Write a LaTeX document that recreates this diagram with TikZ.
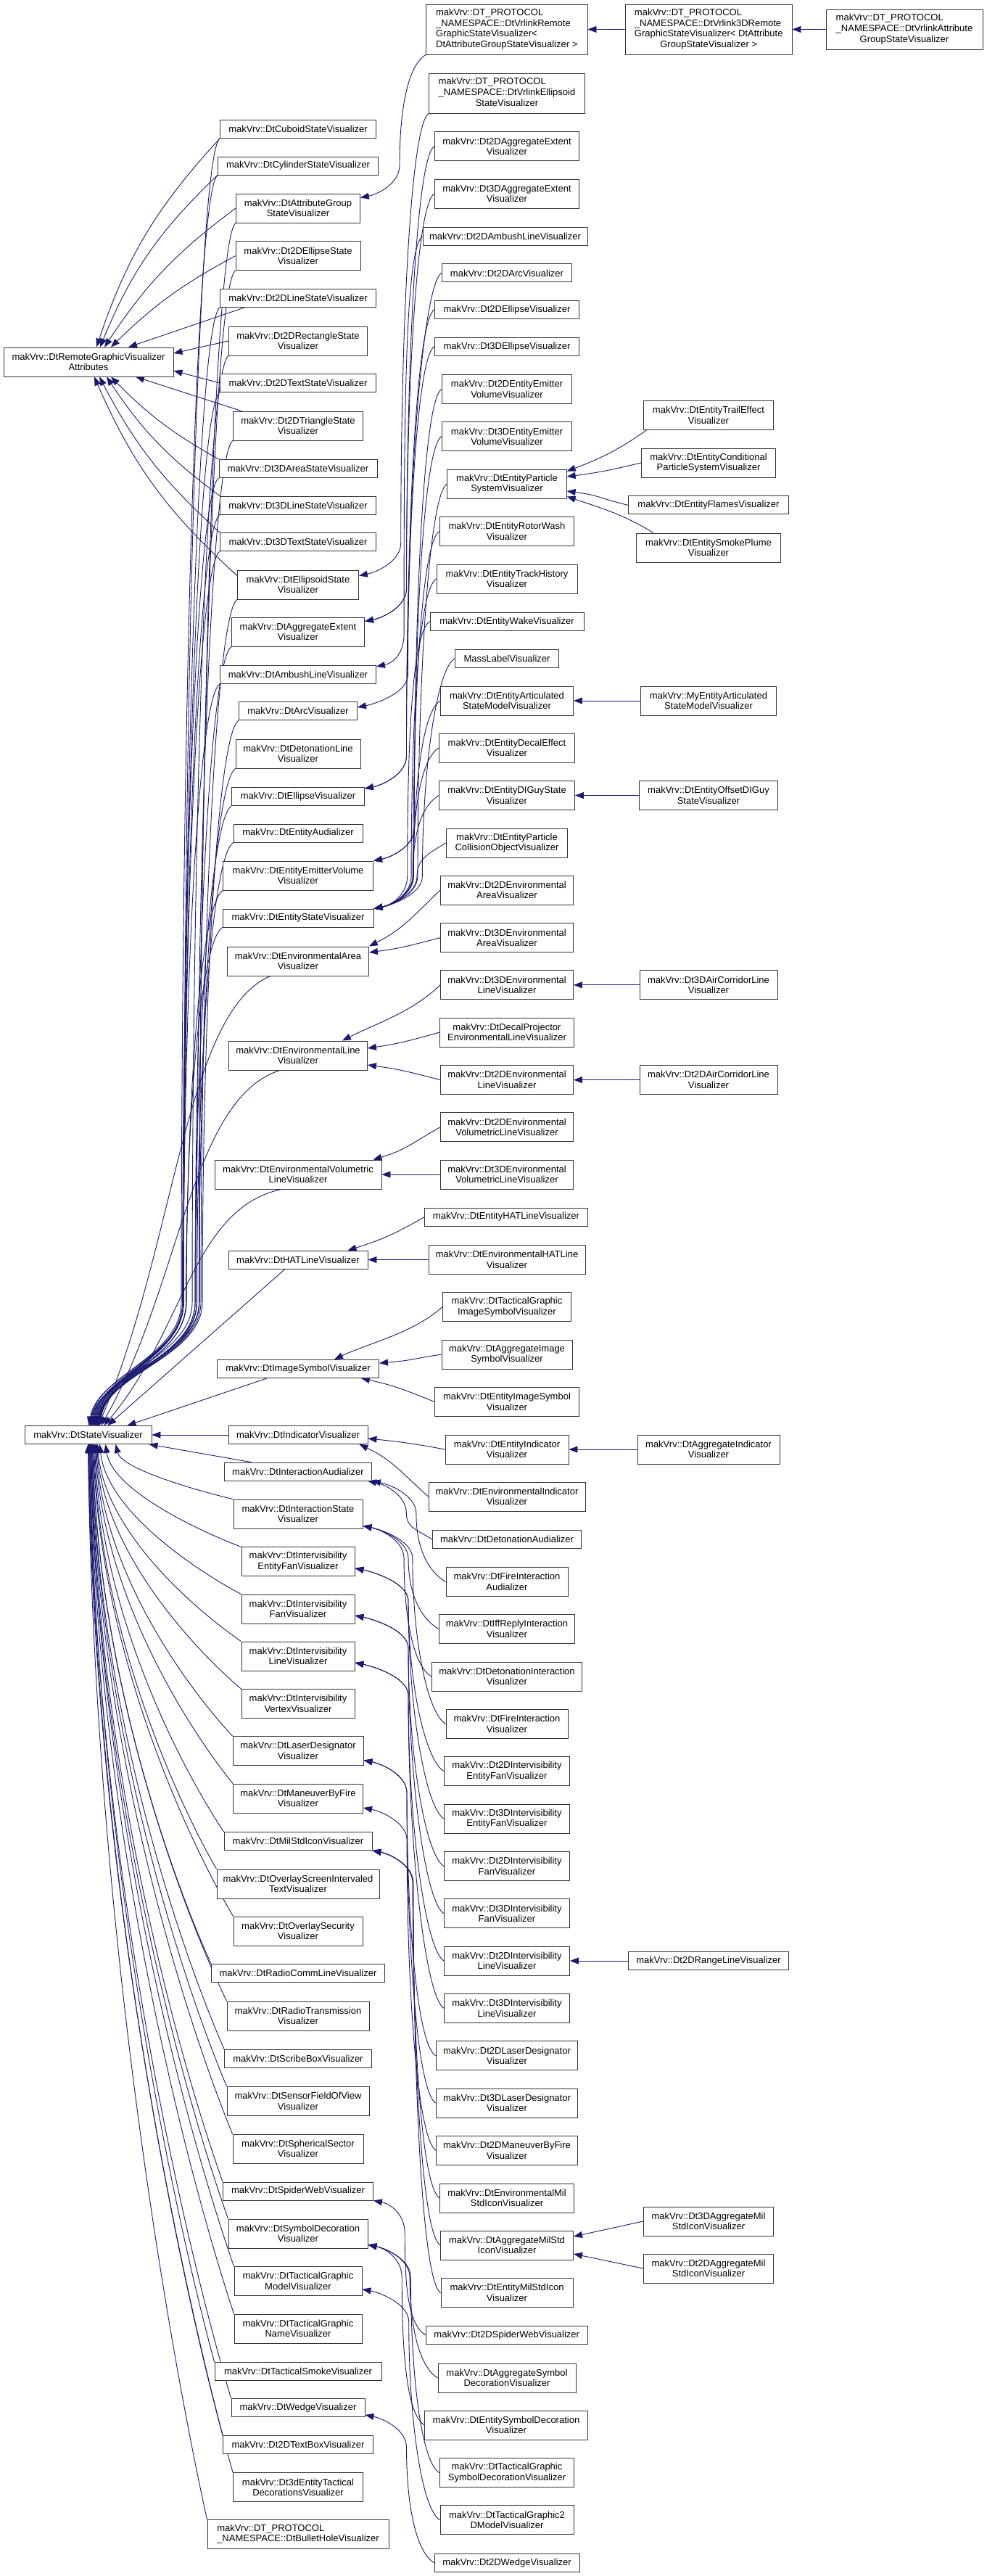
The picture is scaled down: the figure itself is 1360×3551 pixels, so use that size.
\documentclass[tikz,border=0pt]{standalone}
\usepackage{fontspec}
\setmainfont{Liberation Sans}
\usetikzlibrary{arrows.meta,calc}
\definecolor{mblue}{HTML}{191970}
\pgfdeclarelayer{bg}
\pgfsetlayers{bg,main}
\tikzset{
 box/.style={draw=black!80, line width=0.9pt, fill=white, inner sep=0pt, align=center, font=\fontsize{13}{14.6}\selectfont},
 b/.style 2 args={box, minimum width=#1pt, minimum height=#2pt},
 e/.style={draw=mblue, line width=0.9pt, -{Triangle[length=12pt,width=9pt]}},
 svfar/.style={to path={let \p1=(\tikztostart), \p2=(\tikztotarget) in
   .. controls ({(\x1)-30pt},{(\y1)-20pt}) and ({(\x1)-50pt},{0.5*(\y1)+0.5*(\y2)+85pt})
   .. ({(\x1)-50pt},{(\y2)+170pt})
   .. controls ({(\x1)-50pt},{(\y2)+95pt}) and ({(\x2)+12pt},{(\y2)+70pt})
   .. (\tikztotarget)}},
 svmid/.style={to path={let \p1=(\tikztostart), \p2=(\tikztotarget) in
   .. controls ({(\x1)-0.5*((\x1)-(\x2))},{(\y1)-0.08*((\y1)-(\y2))}) and ({(\x2)+0.45*((\x1)-(\x2))},{(\y2)+0.4*((\y1)-(\y2))}) .. (\tikztotarget)}},
 svlow/.style={to path={let \p1=(\tikztostart), \p2=(\tikztotarget) in
   .. controls ({(\x1)-0.3*((\x1)-(\x2))},{(\y1)+0.15*((\y2)-(\y1))}) and ({(\x2)+0.05*((\x1)-(\x2))},{(\y2)-0.45*((\y2)-(\y1))}) .. (\tikztotarget)}},
 ch/.style={to path={let \p1=(\tikztostart), \p2=(\tikztotarget) in
   .. controls ({(\x1)-40pt},{0.5*(\y1)+0.5*(\y2)}) and ({(\x2)+45pt},{0.7*(\y2)+0.3*(\y1)}) .. (\tikztotarget)}},
 chd/.style={to path={let \p1=(\tikztostart), \p2=(\tikztotarget) in
   .. controls ({(\x1)-25pt},{(\y1)-15pt}) and ({(\x2)+0.6*((\x1)-(\x2))},{0.5*(\y1)+0.5*(\y2)+22.5pt})
   .. ({(\x2)+0.6*((\x1)-(\x2))},{(\y2)+45pt})
   .. controls ({(\x2)+0.6*((\x1)-(\x2))},{(\y2)+20pt}) and ({(\x2)+25pt},{(\y2)+5pt})
   .. (\tikztotarget)}},
 chu/.style={to path={let \p1=(\tikztostart), \p2=(\tikztotarget) in
   .. controls ({(\x1)-25pt},{(\y1)+15pt}) and ({(\x2)+0.6*((\x1)-(\x2))},{0.5*(\y1)+0.5*(\y2)-22.5pt})
   .. ({(\x2)+0.6*((\x1)-(\x2))},{(\y2)-45pt})
   .. controls ({(\x2)+0.6*((\x1)-(\x2))},{(\y2)-20pt}) and ({(\x2)+25pt},{(\y2)-5pt})
   .. (\tikztotarget)}}
}
\begin{document}
\begin{tikzpicture}[x=1pt,y=-1pt]
\useasboundingbox (0,0) rectangle (1360,3551);
% ---------- roots
\node[b={234}{40}] (rga) at (122,499) {makVrv::DtRemoteGraphicVisualizer\\Attributes};
\node[b={175}{25}] (sv) at (121.5,1978) {makVrv::DtStateVisualizer};
% ---------- column 1
\node[b={215}{25}] (cub) at (411,178) {makVrv::DtCuboidStateVisualizer};
\node[b={221}{25}] (cyl) at (411,228.5) {makVrv::DtCylinderStateVisualizer};
\node[b={171}{40}] (agr) at (411,287) {makVrv::DtAttributeGroup\\StateVisualizer};
\node[b={172}{40}] (e2s) at (411,352.7) {makVrv::Dt2DEllipseState\\Visualizer};
\node[b={215}{25}] (l2s) at (411,411) {makVrv::Dt2DLineStateVisualizer};
\node[b={191}{40}] (r2s) at (411,470) {makVrv::Dt2DRectangleState\\Visualizer};
\node[b={215}{25}] (t2s) at (411,528) {makVrv::Dt2DTextStateVisualizer};
\node[b={179}{40}] (tr2) at (411,587) {makVrv::Dt2DTriangleState\\Visualizer};
\node[b={218}{25}] (a3s) at (411,646) {makVrv::Dt3DAreaStateVisualizer};
\node[b={215}{25}] (l3s) at (411,696.5) {makVrv::Dt3DLineStateVisualizer};
\node[b={215}{25}] (t3s) at (411,747) {makVrv::Dt3DTextStateVisualizer};
\node[b={167}{40}] (els) at (411,806) {makVrv::DtEllipsoidState\\Visualizer};
\node[b={183}{40}] (age) at (411,871) {makVrv::DtAggregateExtent\\Visualizer};
\node[b={215}{25}] (aml) at (411,929.7) {makVrv::DtAmbushLineVisualizer};
\node[b={163}{25}] (arv) at (411,980) {makVrv::DtArcVisualizer};
\node[b={172}{40}] (det) at (411,1039) {makVrv::DtDetonationLine\\Visualizer};
\node[b={183}{25}] (ell) at (411,1098) {makVrv::DtEllipseVisualizer};
\node[b={178}{25}] (eau) at (411,1148.5) {makVrv::DtEntityAudializer};
\node[b={207}{40}] (eev) at (411,1207) {makVrv::DtEntityEmitterVolume\\Visualizer};
\node[b={208}{25}] (est) at (411,1265.5) {makVrv::DtEntityStateVisualizer};
\node[b={195}{40}] (ena) at (411,1325) {makVrv::DtEnvironmentalArea\\Visualizer};
\node[b={191}{40}] (enl) at (411,1455) {makVrv::DtEnvironmentalLine\\Visualizer};
\node[b={230}{40}] (env) at (411,1619) {makVrv::DtEnvironmentalVolumetric\\LineVisualizer};
\node[b={192}{25}] (hat) at (411,1736.5) {makVrv::DtHATLineVisualizer};
\node[b={223}{25}] (ims) at (411,1887) {makVrv::DtImageSymbolVisualizer};
\node[b={192}{25}] (ind) at (411,1978) {makVrv::DtIndicatorVisualizer};
\node[b={203}{25}] (iau) at (411,2028.5) {makVrv::DtInteractionAudializer};
\node[b={178}{40}] (ist) at (411,2087) {makVrv::DtInteractionState\\Visualizer};
\node[b={156}{40}] (ief) at (411,2152.8) {makVrv::DtIntervisibility\\EntityFanVisualizer};
\node[b={156}{40}] (ifn) at (411,2218) {makVrv::DtIntervisibility\\FanVisualizer};
\node[b={156}{40}] (iln) at (411,2283) {makVrv::DtIntervisibility\\LineVisualizer};
\node[b={156}{40}] (ivx) at (411,2348.6) {makVrv::DtIntervisibility\\VertexVisualizer};
\node[b={180}{40}] (lsd) at (411,2413.5) {makVrv::DtLaserDesignator\\Visualizer};
\node[b={179}{40}] (mbf) at (411,2479) {makVrv::DtManeuverByFire\\Visualizer};
\node[b={204}{25}] (msi) at (411,2538) {makVrv::DtMilStdIconVisualizer};
\node[b={224}{40}] (osi) at (411,2597) {makVrv::DtOverlayScreenIntervaled\\TextVisualizer};
\node[b={178}{40}] (osc) at (411,2662) {makVrv::DtOverlaySecurity\\Visualizer};
\node[b={239}{25}] (rcl) at (411,2720) {makVrv::DtRadioCommLineVisualizer};
\node[b={196}{40}] (rtr) at (411,2779) {makVrv::DtRadioTransmission\\Visualizer};
\node[b={203}{25}] (sbx) at (411,2837.7) {makVrv::DtScribeBoxVisualizer};
\node[b={196}{40}] (sfv) at (411,2896.5) {makVrv::DtSensorFieldOfView\\Visualizer};
\node[b={180}{40}] (sps) at (411,2962) {makVrv::DtSphericalSector\\Visualizer};
\node[b={207}{25}] (spw) at (411,3020.5) {makVrv::DtSpiderWebVisualizer};
\node[b={192}{40}] (syd) at (411,3079) {makVrv::DtSymbolDecoration\\Visualizer};
\node[b={176}{40}] (tgm) at (411,3144.6) {makVrv::DtTacticalGraphic\\ModelVisualizer};
\node[b={176}{40}] (tgn) at (411,3210) {makVrv::DtTacticalGraphic\\NameVisualizer};
\node[b={230}{25}] (tsm) at (411,3268.8) {makVrv::DtTacticalSmokeVisualizer};
\node[b={184}{25}] (wdg) at (411,3319) {makVrv::DtWedgeVisualizer};
\node[b={207}{25}] (tbx) at (411,3370) {makVrv::Dt2DTextBoxVisualizer};
\node[b={179}{40}] (etd) at (411,3428.7) {makVrv::Dt3dEntityTactical\\DecorationsVisualizer};
\node[b={250}{40}] (bhv) at (411,3493.7) {\begin{tabular}{@{}l@{}}makVrv::DT\_PROTOCOL\\\_NAMESPACE::DtBulletHoleVisualizer\end{tabular}};
% ---------- column 2
\node[b={222.5}{69}] (vrr) at (698.75,40.5) {\begin{tabular}{@{}l@{}}makVrv::DT\_PROTOCOL\\\_NAMESPACE::DtVrlinkRemote\\GraphicStateVisualizer<\\\multicolumn{1}{@{}c@{}}{ DtAttributeGroupStateVisualizer >}\end{tabular}};
\node[b={214.7}{55}] (vre) at (699,128.5) {\begin{tabular}{@{}l@{}}makVrv::DT\_PROTOCOL\\\_NAMESPACE::DtVrlinkEllipsoid\\\multicolumn{1}{@{}c@{}}{StateVisualizer}\end{tabular}};
\node[b={199.5}{40}] (ae2) at (699,201.7) {makVrv::Dt2DAggregateExtent\\Visualizer};
\node[b={199.5}{40}] (ae3) at (699,267) {makVrv::Dt3DAggregateExtent\\Visualizer};
\node[b={227}{25}] (ab2) at (696.5,326) {makVrv::Dt2DAmbushLineVisualizer};
\node[b={179.5}{25}] (ar2) at (699,376.4) {makVrv::Dt2DArcVisualizer};
\node[b={199.5}{25}] (el2) at (699,427) {makVrv::Dt2DEllipseVisualizer};
\node[b={199.5}{25}] (el3) at (699,477.7) {makVrv::Dt3DEllipseVisualizer};
\node[b={179.5}{40}] (ee2) at (699,536.5) {makVrv::Dt2DEntityEmitter\\VolumeVisualizer};
\node[b={179.5}{40}] (ee3) at (699,601.7) {makVrv::Dt3DEntityEmitter\\VolumeVisualizer};
\node[b={164.4}{40}] (eps) at (699,667) {makVrv::DtEntityParticle\\SystemVisualizer};
\node[b={185.6}{40}] (erw) at (699,732.5) {makVrv::DtEntityRotorWash\\Visualizer};
\node[b={194}{40}] (eth) at (699,798) {makVrv::DtEntityTrackHistory\\Visualizer};
\node[b={212}{25}] (ewk) at (699,856.7) {makVrv::DtEntityWakeVisualizer};
\node[b={143}{25}] (mlv) at (699,907.7) {MassLabelVisualizer};
\node[b={183}{40}] (eas) at (699,966) {makVrv::DtEntityArticulated\\StateModelVisualizer};
\node[b={187}{40}] (ede) at (699,1031) {makVrv::DtEntityDecalEffect\\Visualizer};
\node[b={187}{40}] (edg) at (699,1096.5) {makVrv::DtEntityDIGuyState\\Visualizer};
\node[b={167.5}{40}] (epc) at (699,1162) {makVrv::DtEntityParticle\\CollisionObjectVisualizer};
\node[b={183}{40}] (ea2) at (699,1227) {makVrv::Dt2DEnvironmental\\AreaVisualizer};
\node[b={183}{40}] (ea3) at (699,1292.7) {makVrv::Dt3DEnvironmental\\AreaVisualizer};
\node[b={183}{40}] (e3l) at (699,1357.8) {makVrv::Dt3DEnvironmental\\LineVisualizer};
\node[b={184.7}{40}] (dpl) at (699,1423) {makVrv::DtDecalProjector\\EnvironmentalLineVisualizer};
\node[b={183}{40}] (e2l) at (699,1488.6) {makVrv::Dt2DEnvironmental\\LineVisualizer};
\node[b={183}{40}] (ev2) at (699,1553.8) {makVrv::Dt2DEnvironmental\\VolumetricLineVisualizer};
\node[b={183}{40}] (ev3) at (699,1619) {makVrv::Dt3DEnvironmental\\VolumetricLineVisualizer};
\node[b={224.3}{25}] (ehl) at (698,1677.5) {makVrv::DtEntityHATLineVisualizer};
\node[b={216}{40}] (enh) at (699,1736.5) {makVrv::DtEnvironmentalHATLine\\Visualizer};
\node[b={177}{40}] (tis) at (699,1801.5) {makVrv::DtTacticalGraphic\\ImageSymbolVisualizer};
\node[b={180}{40}] (ais) at (699,1867) {makVrv::DtAggregateImage\\SymbolVisualizer};
\node[b={198.5}{40}] (eis) at (699,1932.5) {makVrv::DtEntityImageSymbol\\Visualizer};
\node[b={170}{40}] (ein) at (699,1998) {makVrv::DtEntityIndicator\\Visualizer};
\node[b={216}{40}] (evi) at (699,2063) {makVrv::DtEnvironmentalIndicator\\Visualizer};
\node[b={205}{25}] (dau) at (699,2122) {makVrv::DtDetonationAudializer};
\node[b={168}{40}] (fia) at (699,2180.4) {makVrv::DtFireInteraction\\Audializer};
\node[b={187.5}{40}] (iff) at (699,2245.6) {makVrv::DtIffReplyInteraction\\Visualizer};
\node[b={207.5}{40}] (dit) at (699,2311) {makVrv::DtDetonationInteraction\\Visualizer};
\node[b={168}{40}] (fiv) at (699,2376.5) {makVrv::DtFireInteraction\\Visualizer};
\node[b={173}{40}] (if2) at (699,2441.7) {makVrv::Dt2DIntervisibility\\EntityFanVisualizer};
\node[b={173}{40}] (if3) at (699,2507) {makVrv::Dt3DIntervisibility\\EntityFanVisualizer};
\node[b={173}{40}] (fn2) at (699,2572.6) {makVrv::Dt2DIntervisibility\\FanVisualizer};
\node[b={173}{40}] (fn3) at (699,2637.8) {makVrv::Dt3DIntervisibility\\FanVisualizer};
\node[b={173}{40}] (ln2) at (699,2703) {makVrv::Dt2DIntervisibility\\LineVisualizer};
\node[b={173}{40}] (ln3) at (699,2768.3) {makVrv::Dt3DIntervisibility\\LineVisualizer};
\node[b={195.6}{40}] (ld2) at (699,2833.8) {makVrv::Dt2DLaserDesignator\\Visualizer};
\node[b={195.6}{40}] (ld3) at (699,2899) {makVrv::Dt3DLaserDesignator\\Visualizer};
\node[b={194.6}{40}] (mb2) at (699,2964.5) {makVrv::Dt2DManeuverByFire\\Visualizer};
\node[b={184.7}{40}] (ems) at (699,3030) {makVrv::DtEnvironmentalMil\\StdIconVisualizer};
\node[b={183}{40}] (ams) at (699,3095) {makVrv::DtAggregateMilStd\\IconVisualizer};
\node[b={182}{40}] (ens) at (699,3160.6) {makVrv::DtEntityMilStdIcon\\Visualizer};
\node[b={222.5}{25}] (sw2) at (698.75,3219) {makVrv::Dt2DSpiderWebVisualizer};
\node[b={190}{40}] (asd) at (699,3278) {makVrv::DtAggregateSymbol\\DecorationVisualizer};
\node[b={224.3}{40}] (esd) at (698,3343) {makVrv::DtEntitySymbolDecoration\\Visualizer};
\node[b={185.6}{40}] (tsd) at (699,3408.6) {makVrv::DtTacticalGraphic\\SymbolDecorationVisualizer};
\node[b={184}{40}] (t2d) at (699,3473.8) {makVrv::DtTacticalGraphic2\\DModelVisualizer};
\node[b={200}{25}] (wd2) at (699,3532.7) {makVrv::Dt2DWedgeVisualizer};
% ---------- column 3
\node[b={229.5}{69}] (r3d) at (977.25,40.5) {\begin{tabular}{@{}l@{}}makVrv::DT\_PROTOCOL\\\_NAMESPACE::DtVrlink3DRemote\\GraphicStateVisualizer< DtAttribute\\\multicolumn{1}{@{}c@{}}{GroupStateVisualizer >}\end{tabular}};
\node[b={178.4}{40}] (tre) at (977,572.5) {makVrv::DtEntityTrailEffect\\Visualizer};
\node[b={185}{40}] (ecp) at (977,638) {makVrv::DtEntityConditional\\ParticleSystemVisualizer};
\node[b={220.7}{25}] (efl) at (977,696.4) {makVrv::DtEntityFlamesVisualizer};
\node[b={199.3}{40}] (esp) at (977,755) {makVrv::DtEntitySmokePlume\\Visualizer};
\node[b={187.5}{40}] (mea) at (977,966) {makVrv::MyEntityArticulated\\StateModelVisualizer};
\node[b={191}{40}] (eod) at (977,1096.5) {makVrv::DtEntityOffsetDIGuy\\StateVisualizer};
\node[b={190}{40}] (ac3) at (977,1357.8) {makVrv::Dt3DAirCorridorLine\\Visualizer};
\node[b={190}{40}] (ac2) at (977,1488.6) {makVrv::Dt2DAirCorridorLine\\Visualizer};
\node[b={196}{40}] (agi) at (977,1998) {makVrv::DtAggregateIndicator\\Visualizer};
\node[b={220.5}{25}] (rl2) at (977,2703) {makVrv::Dt2DRangeLineVisualizer};
\node[b={179.5}{40}] (a3m) at (977,3062) {makVrv::Dt3DAggregateMil\\StdIconVisualizer};
\node[b={179.5}{40}] (a2m) at (977,3127) {makVrv::Dt2DAggregateMil\\StdIconVisualizer};
% ---------- column 4
\node[b={216}{55}] (vag) at (1247,40.5) {\begin{tabular}{@{}l@{}}makVrv::DT\_PROTOCOL\\\_NAMESPACE::DtVrlinkAttribute\\\multicolumn{1}{@{}c@{}}{GroupStateVisualizer}\end{tabular}};
% ================= edges
\begin{pgfonlayer}{bg}
\fill[white] (0,0) rectangle (1360,3551);
% to DtRemoteGraphicVisualizerAttributes
\draw[e] (cub.south west) to[bend right=12] ([xshift=11pt]rga.north);
\draw[e] (cyl.south west) to[bend right=12] ([xshift=16pt]rga.north);
\draw[e] (agr.west) to[bend right=10] ([xshift=22pt]rga.north);
\draw[e] (e2s.west) to[bend right=8] ([xshift=31pt]rga.north);
\draw[e] ([xshift=34pt]l2s.south west) -- ([xshift=55pt]rga.north);
\draw[e] (r2s.west) -- ([yshift=12pt]rga.east);
\draw[e] (t2s.west) -- ([yshift=-12pt]rga.east);
\draw[e] ([xshift=12pt]tr2.north west) -- ([xshift=65pt]rga.south);
\draw[e] (a3s.north west) to[bend left=8] ([xshift=31pt]rga.south);
\draw[e] (l3s.north west) to[bend left=10] ([xshift=25pt]rga.south);
\draw[e] (t3s.north west) to[bend left=10] ([xshift=15pt]rga.south);
\draw[e] ([yshift=-8pt]els.north west) to[bend left=12] ([xshift=8pt]rga.south);
% to DtStateVisualizer (above)
\foreach \cc/\dd in {cub/1,cyl/2,agr/3,e2s/4,l2s/5,r2s/6,t2s/7,tr2/8,a3s/9,l3s/10,t3s/11,els/12,age/12,aml/13,arv/13,det/14,ell/14,eau/15,eev/15,est/16}
  \draw[e] (\cc.south west) to[svfar] ([xshift=\dd pt]sv.north);
\draw[e] ([xshift=-38pt]ena.south) to[svmid] ([xshift=14pt]sv.north);
\draw[e] ([xshift=-25pt]enl.south) to[svmid] ([xshift=18pt]sv.north);
\draw[e] ([xshift=-23pt]env.south) to[svmid] ([xshift=22pt]sv.north);
\draw[e] ([xshift=-18pt]hat.south) -- ([xshift=27pt]sv.north);
\draw[e] ([xshift=-43pt]ims.south) -- ([xshift=54pt]sv.north);
\draw[e] (ind.west) -- (sv.east);
% to DtStateVisualizer (below)
\draw[e] ([xshift=37pt]iau.north west) -- ([xshift=-4pt]sv.south east);
\foreach \cc/\dd in {ist/38,ief/24,ifn/16,iln/13,ivx/12,lsd/11,mbf/10,msi/9,osi/8,osc/7,rcl/6,rtr/6,sbx/5,sfv/5,sps/4,spw/4,syd/3,tgm/3,tgn/2,tsm/2,wdg/1,tbx/1,etd/0,bhv/0}
  \draw[e] (\cc.north west) to[svlow] ([xshift=\dd pt]sv.south);
% column 2 -> column 1
\draw[e] (vrr.south west) to[chd] ([yshift=-6pt]agr.north east);
\draw[e] (vre.south west) to[chd] ([yshift=-8pt]els.north east);
\draw[e] (ae2.west) to[chd] ([yshift=-6pt]age.north east);
\draw[e] (ae3.west) to[chd] ([yshift=-6pt]age.north east);
\draw[e] (ab2.west) to[chd] ([yshift=-2pt]aml.north east);
\draw[e] (ar2.west) to[chd] ([yshift=-8pt]arv.north east);
\draw[e] (el2.west) to[chd] ([yshift=-2pt]ell.north east);
\draw[e] (el3.west) to[chd] ([yshift=-2pt]ell.north east);
\draw[e] (ee2.west) to[chd] (eev.north east);
\draw[e] (ee3.west) to[chd] (eev.north east);
\foreach \cc in {eps,erw,eth,ewk,mlv,eas,ede,edg,epc}
  \draw[e] (\cc.west) to[chd] (est.north east);
\draw[e] (ea2.west) to[ch] (ena.north east);
\draw[e] (ea3.west) to[ch] ([yshift=12pt]ena.east);
\draw[e] (e3l.west) to[ch] ([xshift=-35pt]enl.north east);
\draw[e] (dpl.west) to[ch] ([yshift=10pt]enl.east);
\draw[e] (e2l.west) to[ch] ([yshift=-13pt]enl.east);
\draw[e] (ev2.west) to[ch] ([xshift=-12pt]env.north east);
\draw[e] (ev3.west) -- (env.east);
\draw[e] (ehl.west) to[ch] ([xshift=-28pt]hat.north east);
\draw[e] (enh.west) -- (hat.east);
\draw[e] (tis.west) to[ch] ([xshift=-62pt]ims.north east);
\draw[e] (ais.west) to[ch] ([yshift=8pt]ims.east);
\draw[e] (eis.west) to[ch] ([xshift=-25pt]ims.south east);
\draw[e] (ein.west) to[ch] ([yshift=-5pt]ind.east);
\draw[e] (evi.west) to[ch] ([xshift=-12pt]ind.south east);
\draw[e] (dau.west) to[chu] ([xshift=-6pt]iau.south east);
\draw[e] (fia.west) to[chu] (iau.south east);
\foreach \cc in {iff,dit,fiv}
  \draw[e] (\cc.west) to[chu] ([yshift=4pt]ist.south east);
\foreach \cc in {if2,if3}
  \draw[e] (\cc.west) to[chu] ([yshift=-9pt]ief.east);
\foreach \cc in {fn2,fn3}
  \draw[e] (\cc.west) to[chu] ([yshift=-9pt]ifn.east);
\foreach \cc in {ln2,ln3}
  \draw[e] (\cc.west) to[chu] ([yshift=-9pt]iln.east);
\foreach \cc in {ld2,ld3}
  \draw[e] (\cc.west) to[chu] ([yshift=-13pt]lsd.east);
\draw[e] (mb2.west) to[chu] ([yshift=-13pt]mbf.east);
\foreach \cc in {ems,ams,ens}
  \draw[e] (\cc.west) to[chu] (msi.south east);
\draw[e] (sw2.west) to[chu] (spw.south east);
\foreach \cc in {asd,esd,tsd}
  \draw[e] (\cc.west) to[chu] ([yshift=5pt]syd.south east);
\draw[e] (t2d.west) to[chu] ([yshift=-11pt]tgm.east);
\draw[e] (wd2.west) to[chu] ([yshift=3pt]wdg.south east);
% column 3/4 -> column 2/3
\draw[e] (r3d.west) -- (vrr.east);
\draw[e] (vag.west) -- (r3d.east);
\draw[e] ([xshift=4pt]tre.south west) to[ch] ([yshift=-3pt]eps.north east);
\draw[e] (ecp.west) to[ch] ([yshift=10pt]eps.east);
\draw[e] (efl.west) to[ch] ([yshift=-10pt]eps.east);
\draw[e] ([xshift=24pt]esp.north west) to[ch] ([yshift=3pt]eps.south east);
\draw[e] (mea.west) -- (eas.east);
\draw[e] (eod.west) -- (edg.east);
\draw[e] (ac3.west) -- (e3l.east);
\draw[e] (ac2.west) -- (e2l.east);
\draw[e] (agi.west) -- (ein.east);
\draw[e] (rl2.west) -- (ln2.east);
\draw[e] (a3m.west) -- ([yshift=12pt]ams.east);
\draw[e] (a2m.west) -- ([yshift=-12pt]ams.east);
\end{pgfonlayer}
\end{tikzpicture}
\end{document}
